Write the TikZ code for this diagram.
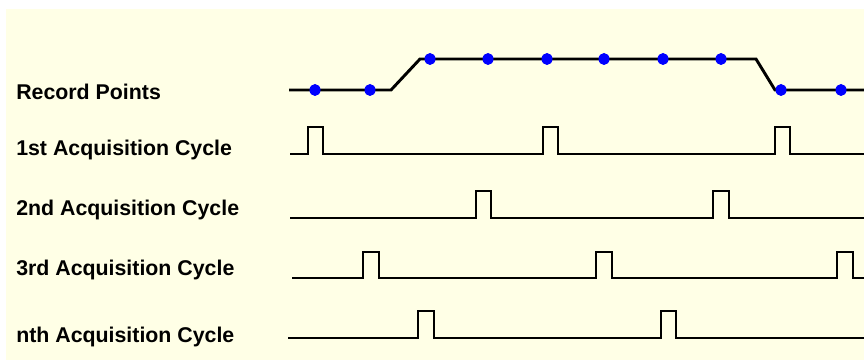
\documentclass[tikz,border=0pt]{standalone}
\usepackage{fontspec}
\setmainfont{Liberation Sans}
\definecolor{bgyellow}{HTML}{FFFFE6}
\definecolor{dotblue}{HTML}{0000FF}
\begin{document}
\begin{tikzpicture}[x=0.75pt,y=-0.75pt,
  lbl/.style={anchor=base west,inner sep=0pt,font=\fontsize{16}{18}\selectfont\bfseries},
  wave/.style={line width=2.2pt,line join=miter,black},
  rp/.style={fill=dotblue,draw=none}]
\useasboundingbox (0,0) rectangle (864,360);
\fill[white] (0,0) rectangle (864,360);
\fill[bgyellow] (6,9) rectangle (864,360);
% labels
\node[lbl] (lrec) at (16,99) {Record Points};
\node[lbl] (l1) at (16,156) {1st Acquisition Cycle};
\node[lbl] (l2) at (16,215) {2nd Acquisition Cycle};
\node[lbl] (l3) at (16,275) {3rd Acquisition Cycle};
\node[lbl] (ln) at (16,342) {nth Acquisition Cycle};
% record points
\draw[wave] (289,90) -- (391,90) -- (420,59) -- (756,59) -- (775,90) -- (864,90);
\foreach \x in {315,370,781,841} \fill[rp] (\x,90) ellipse [x radius=5.5, y radius=6];
\foreach \x in {430,488,547,604,663,721} \fill[rp] (\x,59) ellipse [x radius=5.5, y radius=6];
% 1st
\draw[wave] (290,154) -- (308,154) -- (308,127) -- (323,127) -- (323,154)
  -- (543,154) -- (543,127) -- (558,127) -- (558,154)
  -- (775,154) -- (775,127) -- (790,127) -- (790,154) -- (864,154);
% 2nd
\draw[wave] (290,218) -- (476,218) -- (476,191) -- (491,191) -- (491,218)
  -- (713,218) -- (713,191) -- (729,191) -- (729,218) -- (864,218);
% 3rd
\draw[wave] (292,278) -- (363,278) -- (363,252) -- (379,252) -- (379,278)
  -- (596,278) -- (596,252) -- (612,252) -- (612,278)
  -- (837,278) -- (837,252) -- (853,252) -- (853,278) -- (864,278);
% nth
\draw[wave] (288,338) -- (418,338) -- (418,311) -- (434,311) -- (434,338)
  -- (661,338) -- (661,311) -- (676,311) -- (676,338) -- (864,338);
\end{tikzpicture}
\end{document}
